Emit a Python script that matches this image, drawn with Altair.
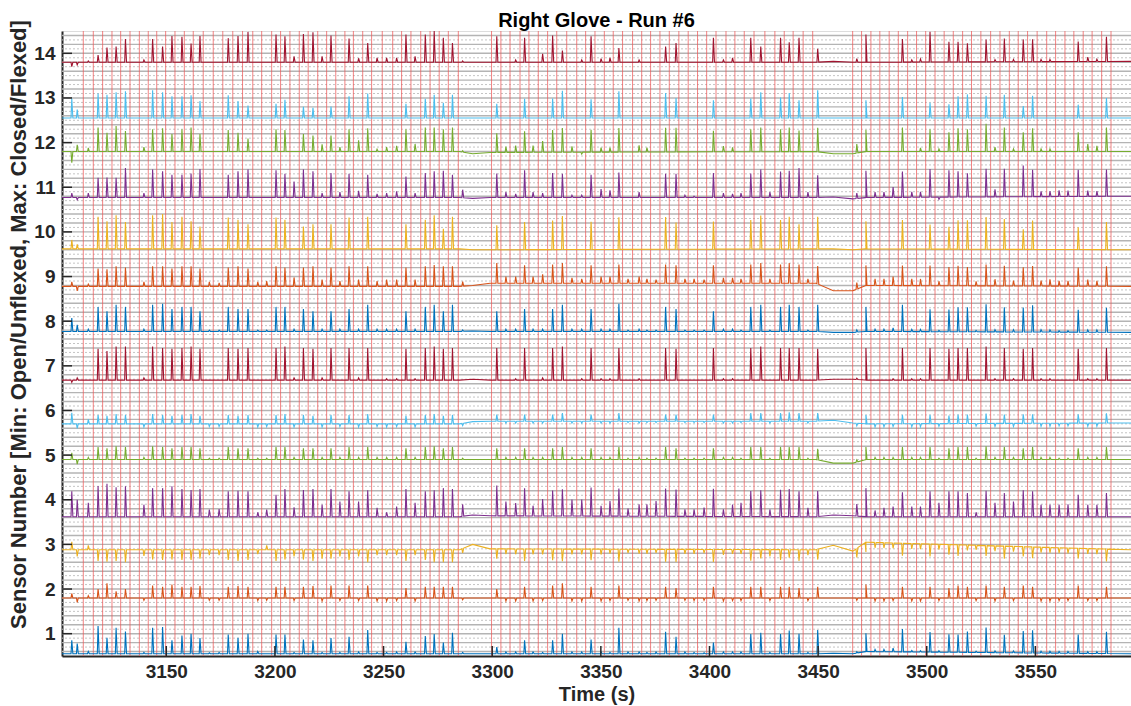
import altair as alt
import numpy as np
import pandas as pd

TITLE = "Right Glove - Run #6"
X_TITLE = "Time (s)"
Y_TITLE = "Sensor Number [Min: Open/Unflexed, Max: Closed/Flexed]"
X_DOMAIN = [3102, 3594]
Y_DOMAIN = [0.5, 14.5]
X_TICKS = [3150, 3200, 3250, 3300, 3350, 3400, 3450, 3500, 3550]
Y_TICKS = list(range(1, 15))
SENSORS = list(range(1, 15))
SENSOR_COLORS = ["#0072BD", "#D95319", "#EDB120", "#7E2F8E", "#77AC30", "#4DBEEE", "#A2142F",
                 "#0072BD", "#D95319", "#EDB120", "#7E2F8E", "#77AC30", "#4DBEEE", "#A2142F"]

# event markers (red vertical lines), seconds
RED_LINES = [3111.8, 3116.4, 3120.7, 3125.0, 3129.0, 3133.3, 3137.6, 3141.7, 3145.6, 3149.7,
             3154.0, 3158.3, 3162.4, 3167.0, 3171.6, 3176.0, 3180.6, 3185.1, 3189.8, 3193.9,
             3198.5, 3202.6, 3206.9, 3211.2, 3215.3, 3219.7, 3223.8, 3228.0, 3232.2, 3236.1,
             3240.4, 3244.5, 3249.4, 3254.2, 3258.3, 3262.6, 3267.1, 3271.4, 3275.6, 3279.8,
             3284.4, 3299.7, 3304.0, 3308.2, 3312.8, 3316.9, 3321.2, 3325.5, 3329.7, 3334.3,
             3338.9, 3343.0, 3347.3, 3351.6, 3355.7, 3360.0, 3364.6, 3368.8, 3372.9, 3377.2,
             3381.5, 3385.9, 3390.2, 3394.5, 3398.7, 3403.0, 3407.6, 3411.7, 3416.0, 3420.5,
             3425.5, 3430.1, 3434.4, 3438.5, 3443.1, 3447.5, 3465.9, 3470.0, 3474.3, 3478.4,
             3482.7, 3486.9, 3491.2, 3495.3, 3499.5, 3503.8, 3508.0, 3512.2, 3516.5, 3520.6,
             3524.9, 3529.4, 3533.7, 3538.0, 3542.1, 3546.4, 3550.8, 3555.2, 3559.3, 3563.6,
             3567.7, 3572.0, 3576.1, 3580.5, 3584.8]

# times of the flex peaks, seconds
SPIKE_T = [3106.5, 3109.0, 3114.1, 3118.6, 3122.7, 3126.9, 3131.2, 3139.7, 3143.7, 3148.3,
           3152.6, 3157.2, 3161.4, 3165.5, 3169.8, 3174.3, 3178.5, 3183.0, 3187.6, 3192.1,
           3196.2, 3200.5, 3204.6, 3208.8, 3213.1, 3217.5, 3221.7, 3225.8, 3229.9, 3234.1,
           3238.5, 3242.7, 3247.0, 3251.4, 3256.0, 3260.3, 3264.5, 3269.2, 3273.3, 3277.5,
           3281.7, 3286.4, 3302.1, 3306.3, 3310.8, 3314.9, 3318.8, 3323.2, 3327.8, 3332.3,
           3336.7, 3341.2, 3345.5, 3350.1, 3354.2, 3358.3, 3362.5, 3367.6, 3371.2, 3375.4,
           3379.8, 3384.6, 3388.7, 3392.9, 3397.5, 3401.8, 3406.4, 3410.6, 3414.5, 3419.0,
           3423.6, 3427.8, 3432.7, 3436.7, 3441.2, 3445.3, 3449.8, 3467.8, 3472.0, 3476.2,
           3480.3, 3484.5, 3488.8, 3493.1, 3497.1, 3501.5, 3505.6, 3510.2, 3514.4, 3518.7,
           3522.7, 3527.3, 3531.4, 3535.7, 3539.9, 3544.4, 3548.7, 3552.6, 3556.7, 3560.9,
           3565.0, 3569.7, 3574.1, 3578.3, 3582.7]

# baseline level of each trace at these times
KNOT_T = [3102, 3285, 3291, 3299, 3449, 3457, 3466, 3472, 3594]
B1 = [0.55, 0.55, 0.55, 0.55, 0.55, 0.56, 0.55, 0.60, 0.55]
B2 = [1.80, 1.80, 1.80, 1.80, 1.80, 1.80, 1.80, 1.80, 1.80]
B3 = [2.88, 2.88, 3.00, 2.90, 2.88, 2.98, 2.85, 3.05, 2.88]
B4 = [3.62, 3.62, 3.66, 3.64, 3.62, 3.66, 3.64, 3.62, 3.62]
B5 = [4.90, 4.90, 4.90, 4.90, 4.90, 4.82, 4.82, 4.90, 4.90]
B6 = [5.70, 5.70, 5.75, 5.76, 5.76, 5.78, 5.72, 5.70, 5.72]
B7 = [6.68, 6.68, 6.70, 6.68, 6.68, 6.70, 6.70, 6.68, 6.68]
B8 = [7.77, 7.77, 7.78, 7.77, 7.77, 7.75, 7.75, 7.77, 7.75]
B9 = [8.78, 8.78, 8.80, 8.85, 8.85, 8.68, 8.68, 8.80, 8.78]
B10 = [9.62, 9.62, 9.60, 9.60, 9.62, 9.62, 9.60, 9.62, 9.60]
B11 = [10.77, 10.77, 10.75, 10.77, 10.77, 10.78, 10.74, 10.77, 10.80]
B12 = [11.80, 11.80, 11.75, 11.78, 11.80, 11.75, 11.75, 11.80, 11.80]
B13 = [12.55, 12.55, 12.55, 12.55, 12.55, 12.55, 12.55, 12.55, 12.55]
B14 = [13.80, 13.80, 13.80, 13.80, 13.80, 13.82, 13.80, 13.80, 13.82]

# peak height above the baseline at each SPIKE_T, in hundredths of a unit
P1 = [30, 23, 5, 62, 36, 58, 50, 3, 58, 60, 30, 41, 45, 35, 2, 3, 43, 36, 45, 5,
      0, 43, 43, 3, 32, 30, 3, 35, 3, 38, 4, 53, 3, 3, 4, 27, 4, 40, 44, 25,
      47, 3, 15, 4, 4, 30, 4, 3, 30, 45, 4, 4, 32, 4, 3, 58, 4, 4, 3, 4,
      49, 38, 4, 3, 2, 25, 4, 4, 4, 44, 47, 3, 44, 52, 45, 3, 53, 3, 41, 5,
      5, 8, 51, 3, 3, 45, 3, 40, 40, 47, 3, 56, 4, 40, 4, 49, 51, 4, 4, 4,
      4, 42, 4, 4, 49]
P2 = [10, -10, 5, 20, 33, 15, 20, -5, 28, 25, 30, 25, 25, 27, -5, -5, 25, 27, 25, -6,
      -5, 25, 25, -6, 25, 27, -7, 28, -6, 28, -6, 28, -7, -7, -6, 22, -7, 25, 25, 25,
      25, -4, 20, -7, -7, 25, -7, -6, 28, 33, -7, -7, 25, -7, -6, 28, -5, -7, -6, -5,
      25, 22, -5, -6, -5, 25, -7, -6, -6, 25, 25, -6, 25, 25, 22, -6, 25, -5, 30, -7,
      -7, -6, 25, -7, -7, 25, -6, 22, 28, 25, -6, 28, -7, 25, -6, 28, 25, -7, -7, -6,
      -6, 28, -6, -6, 25]
P3 = [18, -15, 10, -25, -27, -25, -28, -14, -22, -23, -22, -23, -23, -20, -12, -12, -23, -25, -23, -10,
      10, -25, -22, -15, -22, -25, -20, -20, -15, -23, -15, -28, -12, -12, -12, -25, -12, -23, -28, -28,
      -28, -10, -22, -12, -12, -27, -12, -12, -25, -27, -12, -12, -25, -12, -10, -28, -8, -10, -10, -8,
      -28, -28, -10, -10, -8, -28, -12, -10, -10, -25, -20, -15, -23, -18, -25, -12, -23, -20, -22, -12,
      -12, -12, -28, -12, -12, -28, -12, -23, -25, -12, -10, -23, -12, -28, -12, -22, -25, -12, -12, -12,
      -12, -23, -12, -12, -28]
P4 = [57, 38, 31, 69, 74, 66, 68, 27, 64, 64, 68, 62, 60, 62, 16, 17, 57, 58, 57, 10,
      16, 49, 62, 21, 60, 62, 27, 62, 34, 57, 34, 59, 20, 10, 23, 62, 31, 57, 59, 64,
      62, 27, 68, 32, 29, 62, 23, 38, 57, 60, 37, 37, 64, 23, 34, 62, 17, 27, 27, 34,
      62, 60, 16, 16, 20, 62, 16, 27, 31, 57, 59, 16, 60, 62, 57, 20, 57, 27, 64, 14,
      20, 23, 55, 23, 23, 57, 31, 57, 57, 53, 10, 58, 31, 53, 34, 59, 57, 27, 27, 27,
      28, 49, 27, 27, 53]
P5 = [15, -10, 5, 28, 25, 30, 28, 5, 30, 28, 25, 28, 28, 25, 3, 3, 28, 25, 25, 3,
      3, 28, 28, 5, 25, 25, 5, 25, 5, 28, 5, 28, 5, 5, 5, 25, 5, 28, 30, 25,
      28, 3, 25, 5, 5, 25, 5, 5, 25, 28, 5, 5, 25, 5, 5, 28, 3, 5, 3, 3,
      28, 25, 3, 3, 3, 25, 5, 5, 3, 28, 28, 3, 28, 28, 28, 3, 25, 5, 28, 5,
      5, 5, 28, 5, 5, 28, 3, 25, 28, 28, 3, 30, 5, 28, 5, 25, 28, 5, 5, 3,
      3, 25, 5, 5, 28]
P6 = [25, -10, 10, 20, 18, 22, 20, -7, 22, 20, 18, 20, 22, 18, -6, -6, 20, 18, 20, -7,
      -6, 20, 22, -7, 20, 18, -7, 20, -6, 20, -7, 22, -6, -7, -6, 18, -7, 20, 22, 18,
      20, -5, 15, -4, -4, 15, -4, -4, 15, 18, -4, -4, 15, -4, -4, 18, -3, -4, -3, -3,
      15, 15, -3, -3, -3, 15, -4, -4, -3, 18, 18, -4, 18, 20, 18, -4, 18, -6, 20, -7,
      -7, -6, 20, -7, -7, 20, -6, 18, 20, 20, -6, 22, -7, 20, -7, 20, 20, -7, -7, -6,
      -6, 20, -7, -7, 22]
P7 = [-5, 5, 0, 70, 65, 75, 75, 5, 75, 72, 70, 72, 75, 70, 0, 0, 72, 70, 72, 0,
      0, 72, 75, 5, 72, 70, 5, 72, 0, 72, 5, 72, 0, 3, 3, 70, 3, 72, 75, 70,
      72, 0, 72, 0, 3, 72, 0, 5, 72, 75, 0, 3, 72, 3, 3, 72, 0, 3, 0, 0,
      72, 70, 0, 0, 0, 72, 3, 3, 0, 72, 75, 0, 72, 72, 72, 0, 70, 3, 72, 0,
      0, 3, 72, 3, 3, 72, 0, 70, 72, 72, 0, 75, 3, 72, 3, 70, 72, 3, 3, 0,
      0, 70, 3, 3, 72]
P8 = [30, 15, 5, 55, 45, 60, 55, 5, 60, 62, 50, 55, 55, 45, 3, 3, 55, 50, 50, 3,
      3, 55, 55, 5, 50, 45, 5, 45, 5, 50, 5, 60, 5, 5, 5, 45, 5, 55, 60, 45,
      60, 3, 45, 5, 5, 50, 5, 5, 50, 60, 5, 5, 50, 5, 5, 62, 3, 5, 3, 3,
      55, 50, 3, 3, 3, 45, 5, 5, 3, 55, 60, 3, 55, 60, 55, 3, 60, 5, 55, 5,
      5, 8, 60, 5, 5, 50, 3, 50, 55, 55, 3, 62, 5, 55, 5, 55, 60, 5, 5, 3,
      3, 50, 5, 5, 55]
P9 = [10, -10, 5, 40, 38, 45, 42, 10, 45, 45, 40, 45, 45, 40, 10, 8, 42, 45, 40, 10,
      12, 45, 42, 20, 42, 45, 15, 42, 12, 45, 15, 45, 12, 15, 15, 42, 15, 45, 48, 45,
      45, 10, 45, 15, 15, 40, 15, 20, 42, 45, 12, 10, 40, 15, 15, 42, 10, 15, 10, 8,
      42, 40, 10, 10, 8, 40, 12, 12, 10, 42, 45, 10, 42, 45, 42, 10, 40, 15, 45, 15,
      15, 20, 45, 15, 15, 45, 10, 42, 45, 42, 10, 48, 15, 45, 12, 42, 45, 12, 15, 12,
      12, 42, 15, 12, 45]
P10 = [20, 10, 0, 72, 62, 75, 60, 0, 75, 78, 60, 72, 62, 50, 0, 0, 70, 65, 55, 0,
       0, 70, 65, 0, 50, 55, 0, 55, 0, 70, 0, 72, 0, 0, 0, 55, 0, 65, 75, 45,
       72, 0, 55, 0, 0, 62, 0, 0, 65, 75, 0, 0, 62, 0, 0, 72, 0, 0, 0, 0,
       72, 60, 0, 0, 0, 62, 0, 0, 0, 65, 75, 0, 65, 72, 55, 0, 72, 0, 62, 0,
       0, 0, 65, 0, 0, 55, 0, 50, 65, 65, 0, 72, 0, 68, 0, 45, 65, 0, 0, 0,
       0, 50, 0, 0, 62]
P11 = [10, -5, 10, 44, 45, 44, 66, 10, 63, 59, 51, 51, 54, 64, 0, 0, 51, 59, 63, 0,
       0, 61, 53, 36, 63, 59, 10, 55, 12, 53, 15, 51, 8, 10, 14, 47, 10, 55, 59, 60,
       51, 18, 54, 12, 8, 61, 12, 10, 55, 53, 5, 5, 51, 19, 16, 56, 0, 12, 0, 0,
       53, 53, 5, 3, 0, 55, 10, 8, 10, 54, 63, 12, 58, 60, 66, 12, 50, 12, 60, 12,
       12, 23, 58, 12, 12, 63, -5, 60, 58, 53, 0, 63, 17, 63, 0, 70, 60, 12, 12, 14,
       13, 60, 13, 12, 60]
P12 = [-25, 15, 8, 54, 42, 57, 46, 10, 50, 52, 39, 50, 54, 39, 0, 0, 48, 42, 29, 0,
       0, 50, 48, 0, 39, 36, 16, 36, 10, 50, 25, 52, 5, 10, 13, 50, 17, 54, 54, 50,
       54, 3, 43, 13, 15, 47, 15, 25, 50, 54, 13, -4, 50, 10, 10, 54, 0, 15, 10, 0,
       54, 54, 0, 0, 0, 47, 13, 10, 0, 50, 54, 0, 50, 54, 47, 0, 54, 20, 49, 0,
       0, 0, 54, 0, 8, 50, 6, 43, 52, 50, 0, 62, 10, 54, 6, 43, 52, 6, 6, 0,
       0, 43, 17, 13, 54]
P13 = [44, 19, 0, 55, 52, 58, 60, 0, 62, 58, 49, 49, 51, 38, 0, 0, 51, 38, 28, 0,
       0, 32, 41, 0, 25, 23, 0, 26, 0, 49, 0, 55, 0, 0, 0, 32, 0, 43, 52, 34,
       52, 0, 32, 0, 0, 43, 0, 0, 44, 61, 0, 0, 42, 0, 0, 60, 0, 0, 0, 0,
       56, 45, 0, 0, 0, 40, 0, 0, 0, 44, 58, 0, 46, 56, 40, 0, 62, 0, 40, 0,
       0, 0, 47, 0, 0, 34, 0, 31, 49, 53, 0, 50, 0, 52, 0, 27, 50, 0, 0, 0,
       0, 30, 0, 0, 45]
P14 = [-10, -6, 3, 16, 33, 35, 52, 5, 52, 35, 59, 57, 42, 59, 0, 0, 54, 59, 68, 0,
       0, 62, 58, 13, 63, 67, 13, 60, 0, 53, 9, 43, 10, 10, 10, 62, 13, 62, 70, 55,
       43, 3, 58, 0, 5, 55, 0, 19, 60, 26, 0, 5, 58, 8, 10, 32, 0, 5, 0, 0,
       35, 43, 0, 0, 0, 55, 5, 10, 0, 55, 35, 0, 55, 45, 55, 0, 30, 8, 62, 0,
       0, 0, 52, 5, 7, 68, 0, 45, 45, 42, 0, 50, 5, 52, 5, 50, 50, 5, 5, 0,
       0, 45, 10, 5, 55]

BASES = [B1, B2, B3, B4, B5, B6, B7, B8, B9, B10, B11, B12, B13, B14]
PEAKS = [P1, P2, P3, P4, P5, P6, P7, P8, P9, P10, P11, P12, P13, P14]

# ---- build the trace table from the values above ----
rows = []
for s, base, peaks in zip(SENSORS, BASES, PEAKS):
    pts = list(zip(KNOT_T, base))
    for t, h in zip(SPIKE_T, peaks):
        if h == 0:
            continue
        pts.append((t - 0.35, float(np.interp(t - 0.35, KNOT_T, base))))
        pts.append((t, float(np.interp(t, KNOT_T, base)) + h / 100.0))
        pts.append((t + 0.5, float(np.interp(t + 0.5, KNOT_T, base))))
    pts.sort()
    for i, (t, v) in enumerate(pts):
        rows.append({"sensor": s, "t": t, "v": v, "i": i})
traces_df = pd.DataFrame(rows)

grid_solid = [round(v, 1) for v in np.arange(0.6, 14.45, 0.2)]
grid_dot = [round(v, 1) for v in np.arange(0.7, 14.45, 0.2)]

FONT = "Liberation Sans"
INK = "#262626"

xscale = alt.Scale(domain=X_DOMAIN, nice=False, zero=False)
yscale = alt.Scale(domain=Y_DOMAIN, nice=False, zero=False)

x_axis = alt.Axis(values=X_TICKS, format="d", title=X_TITLE, grid=False, ticks=False,
                  domainColor=INK, domainWidth=2, labelFont=FONT, labelFontSize=19,
                  labelFontWeight="bold", labelColor=INK, labelPadding=6,
                  titleFont=FONT, titleFontSize=20, titleFontWeight="bold", titleColor=INK,
                  titlePadding=3)
y_axis = alt.Axis(values=Y_TICKS, title=Y_TITLE, grid=False, ticks=False,
                  domainColor=INK, domainWidth=2, labelFont=FONT, labelFontSize=19,
                  labelFontWeight="bold", labelColor=INK, labelPadding=7,
                  titleFont=FONT, titleFontSize=22, titleFontWeight="bold", titleColor=INK,
                  titleAngle=270, titleAlign="center", titleBaseline="middle",
                  titleX=-44, titleY=293)

X = lambda: alt.X("t:Q", scale=xscale, axis=x_axis, title=X_TITLE)
Y = lambda: alt.Y("v:Q", scale=yscale, axis=y_axis, title=Y_TITLE)

grid1 = alt.Chart(pd.DataFrame({"v": grid_solid})).mark_rule(
    color="#B4B4B4", strokeWidth=1.4).encode(y=Y())
grid2 = alt.Chart(pd.DataFrame({"v": grid_dot})).mark_rule(
    color="#C4C4C4", strokeWidth=1, strokeDash=[2, 2]).encode(y=Y())

red = alt.Chart(pd.DataFrame({"t": RED_LINES})).mark_rule(
    color="#EE5A5A", strokeWidth=1, opacity=0.75).encode(x=X())

traces = alt.Chart(traces_df).mark_line(strokeWidth=1.1, clip=True).encode(
    x=X(),
    y=Y(),
    color=alt.Color("sensor:N", scale=alt.Scale(domain=SENSORS, range=SENSOR_COLORS), legend=None),
    detail="sensor:N",
    order="i:Q",
)

yticks = alt.Chart(pd.DataFrame({"v": Y_TICKS})).mark_rule(color=INK, strokeWidth=1.5).encode(
    y=Y(), x=alt.value(0), x2=alt.value(10))
xticks = alt.Chart(pd.DataFrame({"t": X_TICKS})).mark_rule(color=INK, strokeWidth=1.5).encode(
    x=X(), y=alt.value(625), y2=alt.value(615))

chart = alt.layer(grid1, grid2, red, traces, yticks, xticks).properties(
    width=1069,
    height=625,
    title=alt.TitleParams(TITLE, font=FONT, fontSize=20, fontWeight="bold", color="#000000",
                          anchor="middle", frame="group", offset=5, dy=16),
    padding={"left": 62, "top": 31, "right": 0, "bottom": 50},
    autosize=alt.AutoSizeParams(type="none"),
).configure_view(stroke=None).configure(background="white")

chart.save("out.html", embed_options={"renderer": "svg", "actions": False})
